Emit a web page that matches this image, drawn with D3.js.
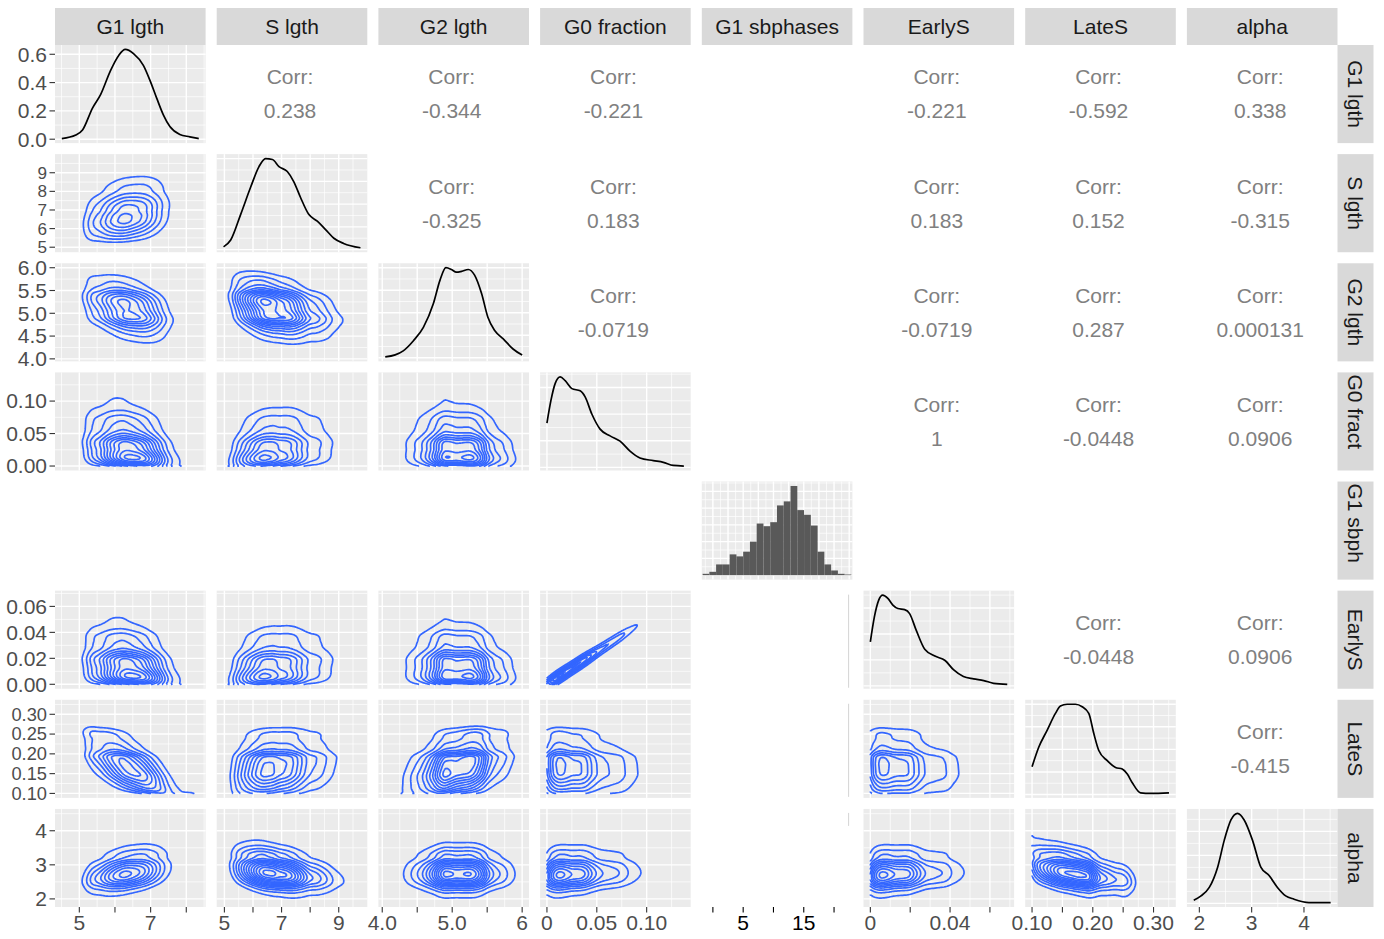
<!DOCTYPE html>
<html><head><meta charset="utf-8">
<script src="https://cdn.jsdelivr.net/npm/d3@7"></script>
<style>
body{margin:0;background:#fff}
svg{display:block}
text{font-family:"Liberation Sans",Arial,Helvetica,sans-serif}
</style></head>
<body><svg id="chart" width="1384" height="939"></svg>
<script>
// ---------------- DATA ----------------
const variables = ["G1 lgth","S lgth","G2 lgth","G0 fraction","G1 sbphases","EarlyS","LateS","alpha"];
const rowStripLabels = ["G1 lgth","S lgth","G2 lgth","G0 fract","G1 sbph","EarlyS","LateS","alpha"];

// diagonal density curves (x value, density)
const densG1X = [4.51,4.90,5.09,5.37,5.60,5.875,6.105,6.29,6.52,6.80,6.99,7.17,7.36,7.54,7.82,8.10,8.35];
const densG1Y = [0.004,0.029,0.065,0.22,0.317,0.485,0.592,0.634,0.605,0.52,0.41,0.29,0.17,0.089,0.033,0.017,0.004];
const densSX = [4.97,5.22,5.57,5.92,6.21,6.44,6.68,6.91,7.20,7.43,7.66,7.95,8.25,8.54,8.83,9.17,9.76];
const densSY = [0.012,0.042,0.155,0.275,0.365,0.40,0.396,0.365,0.343,0.298,0.23,0.155,0.125,0.088,0.05,0.027,0.008];
const densG2X = [4.043,4.185,4.30,4.446,4.588,4.73,4.826,4.91,4.99,5.06,5.135,5.23,5.32,5.42,5.51,5.61,5.73,5.87,6.00];
const densG2Y = [0.008,0.026,0.062,0.152,0.271,0.48,0.69,0.80,0.784,0.76,0.768,0.784,0.734,0.571,0.36,0.24,0.168,0.078,0.024];
const densG0X = [0,0.004,0.0083,0.0133,0.0183,0.025,0.0333,0.0383,0.045,0.0533,0.0633,0.0733,0.0833,0.0933,0.1067,0.1167,0.1267,0.1373];
const densG0Y = [8.33,12.58,15.78,17,16.27,14.79,14.37,13.23,10.03,7.19,5.92,4.93,3.06,1.77,1.28,0.95,0.37,0.26];
const densEarlyX = [0,0.002,0.0042,0.0062,0.0088,0.0113,0.0138,0.0172,0.0197,0.0231,0.0273,0.0324,0.0375,0.0417,0.0467,0.0518,0.0569,0.0619,0.0687];
const densEarlyY = [16.98,26.53,33.08,35,33.74,31.12,29.82,29.4,27.86,21.28,14.11,11.48,9.77,6.23,3.61,2.7,2.03,0.98,0.6];
const densLateX = [0.10,0.111,0.1248,0.1385,0.1467,0.1578,0.1715,0.1825,0.1934,0.2017,0.2099,0.2238,0.2375,0.2485,0.2568,0.265,0.2787,0.2953,0.3254];
const densLateY = [2.46,4.19,5.69,7.19,7.84,8.0,8.0,7.78,7.19,5.4,3.9,3.0,2.4,2.26,1.81,1.05,0.15,0.1,0.15];
const densAlphaX = [1.893,2.032,2.19,2.35,2.476,2.604,2.73,2.857,3.017,3.175,3.333,3.493,3.65,3.81,4.095,4.51];
const densAlphaY = [0.027,0.063,0.133,0.302,0.525,0.695,0.75,0.695,0.525,0.302,0.232,0.133,0.063,0.035,0.007,0.007];

// G1 sbphases histogram
const sbphRange = [-0.7, 21.9];
const sbphBinLeft = [-1.7,-0.58,0.53,1.65,2.77,3.88,5.0,6.12,7.23,8.35,9.47,10.58,11.7,12.82,13.93,15.05,16.17,17.28,18.4,19.52,20.63,21.75];
const sbphBinWidth = 1.117;
const sbphCounts = [2,5,16,16,31,28,35,50,77,73,79,104,110,133,97,90,74,35,16,7,2,1];
const sbphGridY = [0,25,50,75,100,125];

// correlations shown in the upper triangle
const corrPairs = [
  ["G1 lgth","S lgth","0.238"],["G1 lgth","G2 lgth","-0.344"],["G1 lgth","G0 fraction","-0.221"],
  ["G1 lgth","EarlyS","-0.221"],["G1 lgth","LateS","-0.592"],["G1 lgth","alpha","0.338"],
  ["S lgth","G2 lgth","-0.325"],["S lgth","G0 fraction","0.183"],["S lgth","EarlyS","0.183"],
  ["S lgth","LateS","0.152"],["S lgth","alpha","-0.315"],
  ["G2 lgth","G0 fraction","-0.0719"],["G2 lgth","EarlyS","-0.0719"],["G2 lgth","LateS","0.287"],["G2 lgth","alpha","0.000131"],
  ["G0 fraction","EarlyS","1"],["G0 fraction","LateS","-0.0448"],["G0 fraction","alpha","0.0906"],
  ["EarlyS","LateS","-0.0448"],["EarlyS","alpha","0.0906"],
  ["LateS","alpha","-0.415"]
];
// number of contour rings seen in each lower panel [row variable, column variable, rings]
const contourRings = [
  ["S lgth","G1 lgth",7],
  ["G2 lgth","G1 lgth",8],["G2 lgth","S lgth",12],
  ["G0 fraction","G1 lgth",12],["G0 fraction","S lgth",9],["G0 fraction","G2 lgth",11],
  ["EarlyS","G1 lgth",12],["EarlyS","S lgth",9],["EarlyS","G2 lgth",11],["EarlyS","G0 fraction",8],
  ["LateS","G1 lgth",8],["LateS","S lgth",9],["LateS","G2 lgth",11],["LateS","G0 fraction",8],["LateS","EarlyS",7],
  ["alpha","G1 lgth",9],["alpha","S lgth",13],["alpha","G2 lgth",12],["alpha","G0 fraction",10],["alpha","EarlyS",10],["alpha","LateS",12]
];
// EarlyS ~ slope * G0 fraction (corr 1): narrow band
const earlySSlope = 0.5;
const earlySSpread = 0.0028;

// axis ticks and labels
const varTicks = [[5,6,7,8],[5,6,7,8,9],[4,4.5,5,5.5,6],[0,0.05,0.1],[0,5,10,15,20],[0,0.02,0.04,0.06],[0.1,0.15,0.2,0.25,0.3],[2,3,4]];
const bottomLabels = [["5","","7",""],["5","","7","","9"],["4.0","","5.0","","6"],["0","0.05","0.10"],["","5","","15",""],["0","","0.04",""],["0.10","","0.20","","0.30"],["2","3","4"]];
const leftLabels = [["0.0","0.2","0.4","0.6"],["5","6","7","8","9"],["4.0","4.5","5.0","5.5","6.0"],["0.00","0.05","0.10"],[],["0.00","0.02","0.04","0.06"],["0.10","0.15","0.20","0.25","0.30"],["2","3","4"]];
const densityTicksRow1 = [0,0.2,0.4,0.6];

// ---------------- LAYOUT ----------------
const densX = [densG1X,densSX,densG2X,densG0X,null,densEarlyX,densLateX,densAlphaX];
const densY = [densG1Y,densSY,densG2Y,densG0Y,null,densEarlyY,densLateY,densAlphaY];
const N = variables.length;
const L=55, T=45, PW=150.6, PH=98.1, GX=11.1, GY=11.03;
const colX = j => L + j*(PW+GX);
const rowY = i => T + i*(PH+GY);
const FS = 21;
const svg = d3.select("#chart");

const dataRange = d3.range(N).map(v => v===4 ? sbphRange : [densX[v][0], densX[v][densX[v].length-1]]);
const domainOf = v => { const [a,b]=dataRange[v]; const e=(b-a)*0.05; return [a-e,b+e]; };
const xScales = d3.range(N).map(j => d3.scaleLinear().domain(domainOf(j)).range([colX(j), colX(j)+PW]));
const yScales = d3.range(N).map(i => d3.scaleLinear().domain(domainOf(i)).range([rowY(i)+PH, rowY(i)]));
const diagY = d3.range(N).map(i => {
  if (i===4) return d3.scaleLinear().domain([-0.05*d3.max(sbphCounts), 1.05*d3.max(sbphCounts)]).range([rowY(i)+PH,rowY(i)]);
  const lo=d3.min(densY[i]), hi=d3.max(densY[i]), e=(hi-lo)*0.05;
  return d3.scaleLinear().domain([lo-e,hi+e]).range([rowY(i)+PH,rowY(i)]);
});

function minorOf(majors, dom){
  const step = majors[1]-majors[0];
  const c = majors.map(m=>m-step/2).concat([majors[majors.length-1]+step/2]);
  return c.filter(v=>v>=dom[0]&&v<=dom[1]);
}

// ---------------- math helpers ----------------
function monotone(xs, ys){
  const n=xs.length, d=[], m=new Array(n);
  for(let i=0;i<n-1;i++) d[i]=(ys[i+1]-ys[i])/(xs[i+1]-xs[i]);
  m[0]=d[0]; m[n-1]=d[n-2];
  for(let i=1;i<n-1;i++) m[i]=d[i-1]*d[i]<=0?0:(d[i-1]+d[i])/2;
  for(let i=0;i<n-1;i++){
    if(d[i]===0){m[i]=0;m[i+1]=0;continue;}
    const a=m[i]/d[i], b=m[i+1]/d[i], s=a*a+b*b;
    if(s>9){const t=3/Math.sqrt(s); m[i]=t*a*d[i]; m[i+1]=t*b*d[i];}
  }
  return x=>{
    let i=d3.bisectRight(xs,x)-1; i=Math.max(0,Math.min(n-2,i));
    const h=xs[i+1]-xs[i], t=(x-xs[i])/h, t2=t*t, t3=t2*t;
    return (2*t3-3*t2+1)*ys[i]+(t3-2*t2+t)*h*m[i]+(-2*t3+3*t2)*ys[i+1]+(t3-t2)*h*m[i+1];
  };
}
function qnorm(p){
  const a=[-3.969683028665376e+01,2.209460984245205e+02,-2.759285104469687e+02,1.383577518672690e+02,-3.066479806614716e+01,2.506628277459239e+00];
  const b=[-5.447609879822406e+01,1.615858368580409e+02,-1.556989798598866e+02,6.680131188771972e+01,-1.328068155288572e+01];
  const c=[-7.784894002430293e-03,-3.223964580411365e-01,-2.400758277161838e+00,-2.549732539343734e+00,4.374664141464968e+00,2.938163982698783e+00];
  const d=[7.784695709041462e-03,3.224671290700398e-01,2.445134137142996e+00,3.754408661907416e+00];
  const pl=0.02425; let q,r;
  if(p<pl){q=Math.sqrt(-2*Math.log(p));return (((((c[0]*q+c[1])*q+c[2])*q+c[3])*q+c[4])*q+c[5])/((((d[0]*q+d[1])*q+d[2])*q+d[3])*q+1);}
  if(p>1-pl){q=Math.sqrt(-2*Math.log(1-p));return -(((((c[0]*q+c[1])*q+c[2])*q+c[3])*q+c[4])*q+c[5])/((((d[0]*q+d[1])*q+d[2])*q+d[3])*q+1);}
  q=p-0.5;r=q*q;return (((((a[0]*r+a[1])*r+a[2])*r+a[3])*r+a[4])*r+a[5])*q/(((((b[0]*r+b[1])*r+b[2])*r+b[3])*r+b[4])*r+1);
}
const GN = 90;
function makeMarg(v){
  const xs=densX[v], ys=densY[v], f=monotone(xs,ys);
  const lo=xs[0], hi=xs[xs.length-1], M=900;
  const fine=d3.range(M+1).map(k=>Math.max(f(lo+(hi-lo)*k/M),1e-9));
  const cum=[0]; for(let k=1;k<=M;k++) cum[k]=cum[k-1]+(fine[k]+fine[k-1])/2*(hi-lo)/M;
  const tot=cum[M];
  const nodes=d3.range(GN).map(k=>lo+(hi-lo)*k/(GN-1));
  const pdf=nodes.map(x=>Math.max(f(x),1e-9)/tot);
  const a=nodes.map(x=>{const t=(x-lo)/(hi-lo)*M, k=Math.min(M-1,Math.floor(t)), w=t-k;
    const F=(cum[k]*(1-w)+cum[k+1]*w)/tot; return qnorm(Math.min(0.998,Math.max(0.002,F)));});
  return {lo,hi,nodes,pdf,a};
}
const margs = d3.range(N).map(v => v===4?null:makeMarg(v));

// ---------------- DRAW ----------------
const gGrid = svg.append("g");
function panelBg(i,j){
  gGrid.append("rect").attr("x",colX(j)).attr("y",rowY(i)).attr("width",PW).attr("height",PH).attr("fill","#EBEBEB");
}
function vLines(i,j,vals,w){
  vals.forEach(v=>gGrid.append("line").attr("x1",xScales[j](v)).attr("x2",xScales[j](v))
    .attr("y1",rowY(i)).attr("y2",rowY(i)+PH).attr("stroke","#fff").attr("stroke-width",w));
}
function hLines(i,j,ys,vals,w){
  vals.forEach(v=>gGrid.append("line").attr("x1",colX(j)).attr("x2",colX(j)+PW)
    .attr("y1",ys(v)).attr("y2",ys(v)).attr("stroke","#fff").attr("stroke-width",w));
}
function xGrid(i,j){
  if(j===4){
    const all=d3.range(-1.25,23.5,1.25).filter(v=>v>=xScales[4].domain()[0]&&v<=xScales[4].domain()[1]);
    vLines(i,j,all.filter(v=>Math.abs(v/2.5-Math.round(v/2.5))>0.01),0.7);
    vLines(i,j,all.filter(v=>Math.abs(v/2.5-Math.round(v/2.5))<=0.01),1.4);
    return;
  }
  const dom=xScales[j].domain();
  const maj=varTicks[j].filter(v=>v>=dom[0]&&v<=dom[1]);
  vLines(i,j,minorOf(varTicks[j],dom),0.7);
  vLines(i,j,maj,1.4);
}
function yGrid(i,j,ys,majors){
  const dom=ys.domain();
  hLines(i,j,ys,minorOf(majors,dom),0.7);
  hLines(i,j,ys,majors.filter(v=>v>=dom[0]&&v<=dom[1]),1.4);
}

const gMarks = svg.append("g");
const contourLine = d3.line();

function openRings(ring,nx,ny){
  const onB=p=>p[0]<=0||p[0]>=nx||p[1]<=0||p[1]>=ny;
  const m=ring.length-1;
  const drop=k=>onB(ring[k])&&onB(ring[k+1]);
  let k0=-1; for(let k=0;k<m;k++) if(drop(k)){k0=k;break;}
  if(k0<0) return [ring];
  const out=[]; let cur=[];
  for(let t=1;t<=m;t++){
    const k=(k0+t)%m;
    if(drop(k)){ if(cur.length>1) out.push(cur); cur=[]; }
    else { if(!cur.length) cur.push(ring[k]); cur.push(ring[k+1]); }
  }
  if(cur.length>1) out.push(cur);
  return out;
}
function corrValue(a,b){
  const p=corrPairs.find(c=>(c[0]===a&&c[1]===b)||(c[0]===b&&c[1]===a));
  return p?+p[2]:0;
}
function drawContours(i,j){
  const mx=margs[j], my=margs[i];
  const r=corrValue(variables[i],variables[j]);
  const rings=(contourRings.find(c=>c[0]===variables[i]&&c[1]===variables[j])||[0,0,9])[2];
  const vals=new Float64Array(GN*GN);
  let zmax=0;
  const special = Math.abs(r)>=0.999;
  for(let l=0;l<GN;l++) for(let k=0;k<GN;k++){
    let z;
    if(special){
      const x=mx.nodes[k], y=my.nodes[l];
      const dz=(y-earlySSlope*x)/earlySSpread;
      z=mx.pdf[k]*Math.exp(-0.5*dz*dz);
    } else {
      const a=mx.a[k], b=my.a[l], q=1-r*r;
      const c=Math.exp(-(r*r*(a*a+b*b)-2*r*a*b)/(2*q))/Math.sqrt(q);
      z=c*mx.pdf[k]*my.pdf[l];
    }
    vals[l*GN+k]=z; if(z>zmax) zmax=z;
  }
  const th=d3.range(1,rings+1).map(k=>zmax*k/(rings+0.4));
  const cs=d3.contours().size([GN,GN]).thresholds(th)(vals);
  const sx=(mx.hi-mx.lo)/(GN-1), sy=(my.hi-my.lo)/(GN-1);
  const cl=v=>Math.max(0,Math.min(GN-1,v));
  cs.forEach(c=>c.coordinates.forEach(poly=>poly.forEach(ring=>{
    openRings(ring,GN,GN).forEach(pts=>{
      const P=pts.map(p=>[xScales[j](mx.lo+cl(p[0]-0.5)*sx), yScales[i](my.lo+cl(p[1]-0.5)*sy)]);
      gMarks.append("path").attr("d",contourLine(P)).attr("fill","none")
        .attr("stroke","#3366FF").attr("stroke-width",1.7).attr("stroke-linejoin","round");
    });
  })));
}

for(let i=0;i<N;i++) for(let j=0;j<N;j++){
  if(i===j){
    panelBg(i,j); xGrid(i,j);
    if(i===4){
      yGrid(i,j,diagY[4],sbphGridY);
      const ys=diagY[4];
      gMarks.selectAll(null).data(sbphCounts).enter().append("rect")
        .attr("x",(d,k)=>xScales[4](sbphBinLeft[k])).attr("width",(d,k)=>xScales[4](sbphBinLeft[k]+sbphBinWidth)-xScales[4](sbphBinLeft[k]))
        .attr("y",d=>ys(d)).attr("height",d=>ys(0)-ys(d)).attr("fill","#595959");
    } else {
      const ys=diagY[i];
      yGrid(i,j,ys, i===0?densityTicksRow1:ys.ticks(4));
      const pts=densX[i].map((x,k)=>[x,densY[i][k]]);
      gMarks.append("path").datum(pts).attr("fill","none").attr("stroke","#000").attr("stroke-width",1.7)
        .attr("d",d3.line().x(d=>xScales[j](d[0])).y(d=>ys(d[1])).curve(d3.curveMonotoneX));
    }
  } else if(i>j){
    if(i===4) continue;
    if(j===4){
      const x=colX(j)+PW-3.8;
      const y2 = i===7 ? rowY(i)+17 : rowY(i)+PH-1;
      gMarks.append("line").attr("x1",x).attr("x2",x).attr("y1",rowY(i)+4).attr("y2",y2)
        .attr("stroke","#d4d4d4").attr("stroke-width",1);
      continue;
    }
    panelBg(i,j); xGrid(i,j); yGrid(i,j,yScales[i],varTicks[i]);
    drawContours(i,j);
  } else {
    if(i===4||j===4) continue;
    const p=corrPairs.find(c=>c[0]===variables[i]&&c[1]===variables[j]);
    if(!p) continue;
    const cx=colX(j)+PW/2-2, cy=rowY(i)+PH/2;
    svg.append("text").attr("x",cx).attr("y",cy-17).attr("dy","0.35em").attr("text-anchor","middle")
      .attr("font-size",FS).attr("fill","#808080").text("Corr:");
    svg.append("text").attr("x",cx).attr("y",cy+17).attr("dy","0.35em").attr("text-anchor","middle")
      .attr("font-size",FS).attr("fill","#808080").text(p[2]);
  }
}

// strips
const gStrip = svg.append("g");
for(let j=0;j<N;j++){
  gStrip.append("rect").attr("x",colX(j)).attr("y",8).attr("width",PW).attr("height",T-8).attr("fill","#D9D9D9");
  gStrip.append("text").attr("x",colX(j)+PW/2).attr("y",(8+T)/2).attr("dy","0.35em").attr("text-anchor","middle")
    .attr("font-size",FS).attr("fill","#1A1A1A").text(variables[j]);
}
const SX = colX(N-1)+PW;
for(let i=0;i<N;i++){
  gStrip.append("rect").attr("x",SX).attr("y",rowY(i)).attr("width",36).attr("height",PH).attr("fill","#D9D9D9");
  const trunc = rowStripLabels[i]!==variables[i];
  gStrip.append("text").attr("transform",`translate(${SX+18},${trunc?rowY(i)+2:rowY(i)+PH/2}) rotate(90)`)
    .attr("dy","0.35em").attr("text-anchor",trunc?"start":"middle")
    .attr("font-size",FS).attr("fill","#1A1A1A").text(rowStripLabels[i]);
}

// axes
const gAxis = svg.append("g");
for(let i=0;i<N;i++){
  if(i===4) continue;
  const ys = i===0 ? diagY[0] : yScales[i];
  const ticks = i===0 ? densityTicksRow1 : varTicks[i];
  const spacing = Math.abs(ys(ticks[1])-ys(ticks[0]));
  const fs = Math.min(FS, spacing-1.5);
  ticks.forEach((t,k)=>{
    const y=ys(t);
    gAxis.append("line").attr("x1",L-5.5).attr("x2",L).attr("y1",y).attr("y2",y).attr("stroke","#333").attr("stroke-width",1.1);
    gAxis.append("text").attr("x",L-8).attr("y",y).attr("dy","0.35em").attr("text-anchor","end")
      .attr("font-size",fs).attr("fill","#4D4D4D").text(leftLabels[i][k]);
  });
}
const yB = rowY(N-1)+PH;
for(let j=0;j<N;j++){
  const col = j===4 ? "#000" : "#4D4D4D";
  varTicks[j].forEach((t,k)=>{
    const x=xScales[j](t);
    gAxis.append("line").attr("x1",x).attr("x2",x).attr("y1",yB).attr("y2",yB+5.5).attr("stroke",j===4?"#000":"#333").attr("stroke-width",1.1);
    if(bottomLabels[j][k]) gAxis.append("text").attr("x",x).attr("y",yB+23).attr("text-anchor","middle")
      .attr("font-size",FS).attr("fill",col).text(bottomLabels[j][k]);
  });
}
</script>
</body></html>
